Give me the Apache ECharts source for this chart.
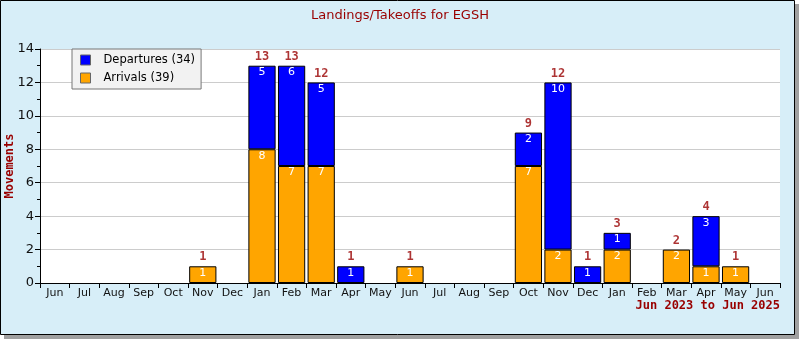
<!DOCTYPE html>
<html><head><meta charset="utf-8">
<script src="https://cdn.jsdelivr.net/npm/echarts@6/dist/echarts.min.js"></script>
<style>html,body{margin:0;padding:0;background:#fff}#c{width:800px;height:340px}</style>
</head><body><div id="c"></div>
<script>
const months = ['Jun','Jul','Aug','Sep','Oct','Nov','Dec','Jan','Feb','Mar','Apr','May','Jun','Jul','Aug','Sep','Oct','Nov','Dec','Jan','Feb','Mar','Apr','May','Jun'];
const arrivals   = [0,0,0,0,0,1,0,8,7,7,0,0,1,0,0,0,7,2,0,2,0,2,1,1,0];
const departures = [0,0,0,0,0,0,0,5,6,5,1,0,0,0,0,0,2,10,1,1,0,0,3,0,0];
const yTicks = [0,2,4,6,8,10,12,14];
const titleText = 'Landings/Takeoffs for EGSH';
const rangeText = 'Jun 2023 to Jun 2025';

const sum = a => a.reduce((s,v)=>s+v,0);
const depName = 'Departures (' + sum(departures) + ')';
const arrName = 'Arrivals (' + sum(arrivals) + ')';
const totals = months.map((m,i)=>arrivals[i]+departures[i]);
const dark = '#990000';
const font = 'DejaVu Sans';
const mono = 'DejaVu Sans Mono';

const innerLabel = {show:true, position:'insideTop', distance:1, color:'#fff', fontFamily:font, fontSize:11};

const chart = echarts.init(document.getElementById('c'), null, {renderer:'canvas'});
chart.setOption({
  animation:false,
  backgroundColor:'#fff',
  graphic:[
    {type:'rect', z:-10, shape:{x:4,y:4,width:795,height:335}, style:{fill:'#a0a0a0'}},
    {type:'rect', z:-9, shape:{x:0.5,y:0.5,width:794,height:334}, style:{fill:'#D7EEF8', stroke:'#000', lineWidth:1}},
    {type:'text', right:20, top:300, style:{text:rangeText, fill:dark, font:'bold 12px "DejaVu Sans Mono"', textAlign:'right'}}
  ],
  title:{text:titleText, left:'center', top:4, textStyle:{color:dark, fontFamily:font, fontSize:13, fontWeight:'normal'}},
  legend:{
    data:[depName, arrName], orient:'vertical', left:72, top:49,
    backgroundColor:'#f2f2f2', borderColor:'#777', borderWidth:1, borderRadius:0,
    padding:[5,6,5,8], itemGap:6, itemWidth:10, itemHeight:10, icon:'rect',
    itemStyle:{borderColor:'#666', borderWidth:1},
    textStyle:{fontFamily:font, fontSize:11.5, color:'#000', padding:[0,0,0,8]}
  },
  grid:{left:40, right:20, top:49, bottom:57, show:true, backgroundColor:'#fff', borderWidth:0, outerBoundsMode:'none', containLabel:false},
  xAxis:{
    type:'category', data:months, boundaryGap:true,
    axisLine:{lineStyle:{color:'#000', width:1}},
    axisTick:{show:true, alignWithLabel:false, length:5, lineStyle:{color:'#000'}},
    axisLabel:{interval:0, fontFamily:font, fontSize:11, color:'#111', margin:5}
  },
  yAxis:{
    type:'value', min:yTicks[0], max:yTicks[yTicks.length-1], interval:2,
    name:'Movements', nameLocation:'middle', nameGap:24, nameRotate:90, nameMoveOverlap:false,
    nameTextStyle:{color:dark, fontFamily:mono, fontWeight:'bold', fontSize:12},
    axisLine:{show:true, lineStyle:{color:'#000', width:1}},
    axisTick:{show:true, length:5, lineStyle:{color:'#000'}},
    minorTick:{show:true, splitNumber:2, length:3, lineStyle:{color:'#000'}},
    axisLabel:{fontFamily:font, fontSize:13, color:'#111', margin:6},
    splitLine:{show:true, lineStyle:{color:'#ccc', width:1}}
  },
  series:[
    {name:arrName, type:'bar', stack:'m', barCategoryGap:'8%',
     itemStyle:{color:'#FFA500', borderColor:'#000', borderWidth:1},
     label:innerLabel, data:arrivals.map(v=>v>0?v:'-')},
    {name:depName, type:'bar', stack:'m', barCategoryGap:'8%',
     itemStyle:{color:'#0000FF', borderColor:'#000', borderWidth:1},
     label:innerLabel, data:departures.map(v=>v>0?v:'-')},
    {name:'Total', type:'scatter', symbolSize:0, silent:true,
     label:{show:true, position:'top', distance:3, color:dark, fontFamily:mono, fontWeight:'bold', fontSize:12},
     data:totals.map(v=>v>0?v:'-')}
  ]
});
</script></body></html>
